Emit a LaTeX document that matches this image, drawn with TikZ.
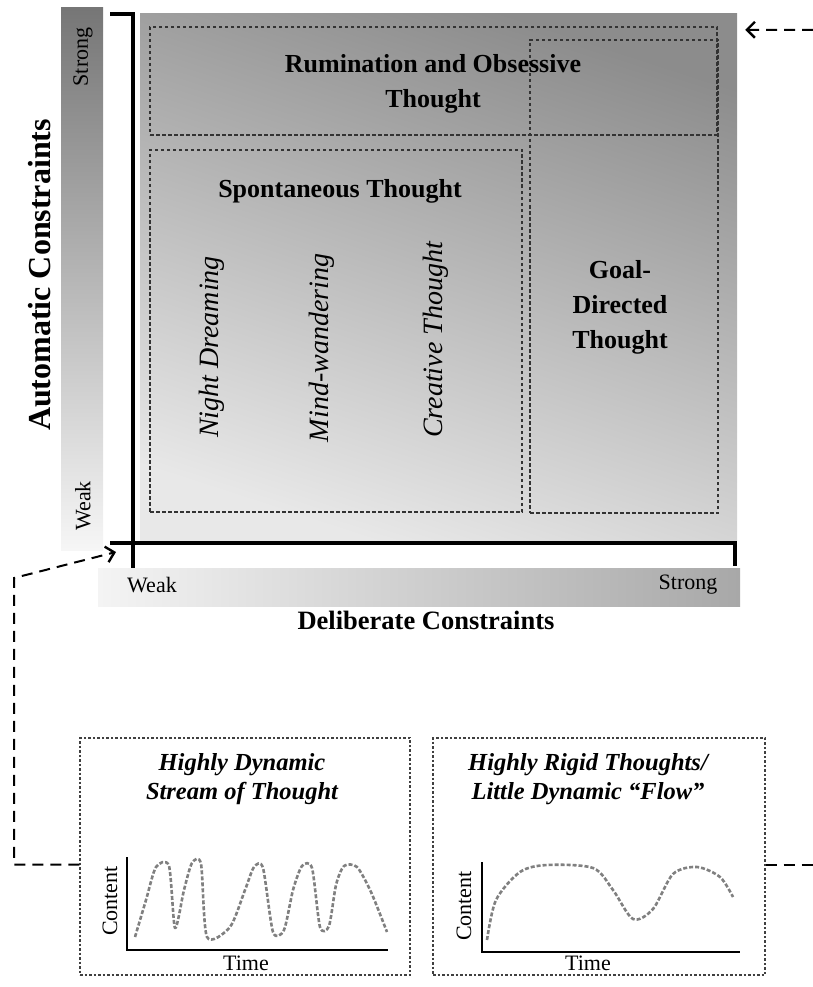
\documentclass[tikz,border=0pt]{standalone}
\usepackage{fontspec}
\setmainfont{Liberation Serif}
\usetikzlibrary{arrows.meta,calc}
\definecolor{gtop}{RGB}{140,140,140}
\definecolor{gbot}{RGB}{232,232,232}
\definecolor{vtop}{RGB}{118,118,118}
\definecolor{vbot}{RGB}{246,246,246}
\definecolor{hleft}{RGB}{244,244,244}
\definecolor{hright}{RGB}{168,168,168}
\begin{document}
\begin{tikzpicture}[x=1pt,y=-1pt,
  inbox/.style={draw=black!80, line width=1.3pt, dash pattern=on 3.5pt off 2.5pt, minimum width=0, inner sep=0},
  pbox/.style={draw=black!75, line width=1.2pt, dash pattern=on 2.5pt off 2pt, inner sep=0},
  conn/.style={draw=black, line width=2pt, dash pattern=on 11pt off 7pt},
  tip/.style={-{Straight Barb[length=8pt,width=16pt,line width=2.4pt]}},
  lbl/.style={font=\fontsize{26}{35}\selectfont\bfseries, align=center},
  ital/.style={font=\fontsize{28}{30}\selectfont\itshape, rotate=90},
  small/.style={font=\fontsize{22}{24}\selectfont},
  ptitle/.style={font=\fontsize{24.5}{29}\selectfont\bfseries\itshape, align=center},
  axisline/.style={line width=3.5pt, black},
  paxis/.style={line width=2.6pt, black},
  curve/.style={draw=black!50, line width=2.6pt, dash pattern=on 4pt off 2pt, line join=round}
]
\useasboundingbox (0,0) rectangle (813,987);

% gradient bars and main field
\node[minimum width=42, minimum height=542, inner sep=0, top color=vtop, bottom color=vbot] (vbar) at (82,279) {};
\node[minimum width=642, minimum height=38, inner sep=0, left color=hleft, right color=hright] (hbar) at (419,587) {};
\node[minimum width=597, minimum height=526, inner sep=0, top color=gtop, bottom color=gbot, shading angle=-18] (main) at (438.5,277) {};

% axes
\draw[axisline] (110,14) -- (133,14) -- (133,568);
\draw[axisline] (110,543) -- (735,543) -- (735,566);

% region boxes
\node[inbox, minimum width=567, minimum height=108] (rum) at (433.5,81) {};
\node[inbox, minimum width=188, minimum height=473] (goal) at (624,276.5) {};
\node[inbox, minimum width=372, minimum height=362] (spont) at (336,331) {};

% region labels
\node[lbl] (rumt) at (433,84) {Rumination and Obsessive\\Thought};
\node[lbl] (spontt) at (340,191) {Spontaneous Thought};
\node[lbl] (goalt) at (620,307) {Goal-\\Directed\\Thought};
\node[ital] (nd) at (212,347) {Night Dreaming};
\node[ital] (mw) at (322,348) {Mind-wandering};
\node[ital] (ct) at (436,340) {Creative Thought};

% axis labels
\node[font=\fontsize{32}{34}\selectfont\bfseries, rotate=90] (autoc) at (40,275) {Automatic Constraints};
\node[font=\fontsize{26.5}{28}\selectfont\bfseries] (delc) at (426,620) {Deliberate Constraints};
\node[small, rotate=90] (vstrong) at (83,57) {Strong};
\node[small, rotate=90] (vweak) at (83,506) {Weak};
\node[small] (hweak) at (152,585) {Weak};
\node[small] (hstrong) at (688,585) {Strong};

% lower panels
\node[pbox, minimum width=330, minimum height=237] (lbox) at (245,856.5) {};
\node[pbox, minimum width=332, minimum height=237] (rbox) at (599,856.5) {};

\node[ptitle] (lt) at (242,779) {Highly Dynamic\\Stream of Thought};
\node[ptitle] (rt) at (588,779) {Highly Rigid Thoughts/\\Little Dynamic ``Flow''};

% left plot
\draw[paxis] (127,857) -- (127,950) -- (388,950);
\node[small, rotate=90] (lcont) at (110,901) {Content};
\node[small] (ltime) at (246,963) {Time};
\draw[curve] plot[smooth, tension=0.45] coordinates {(135,937) (146,900) (156,867) (169,866) (175,928) (184,890) (192,863) (201,864) (207,937) (230,927) (245,890) (254,867) (263,868) (273,932) (284,930) (293,890) (302,866) (312,868) (320,927) (329,926) (336,885) (344,866) (357,867) (371,892) (387,932)};

% right plot
\draw[paxis] (482,862) -- (482,952) -- (740,952);
\node[small, rotate=90] (rcont) at (464,906) {Content};
\node[small] (rtime) at (588,963) {Time};
\draw[curve] plot[smooth, tension=0.5] coordinates {(487,940) (496,900) (520,872) (547,865) (593,868) (613,890) (633,919) (653,909) (673,874) (697,867) (720,877) (733,897)};

% connectors
\coordinate (lcorner) at (14,578);
\coordinate (ltip) at (116,552);
\draw[conn, tip] ($(lbox.west)+(0,8)$) -| (lcorner) -- (ltip);
\coordinate (rfree) at (813,865);
\draw[conn] ($(rbox.east)+(0,8.5)$) -- (rfree);
\coordinate (rtop) at (813,30);
\coordinate (rtip) at ($(main.north east)+(8,16)$);
\draw[conn, tip] (rtop) -- (rtip);
\end{tikzpicture}
\end{document}
